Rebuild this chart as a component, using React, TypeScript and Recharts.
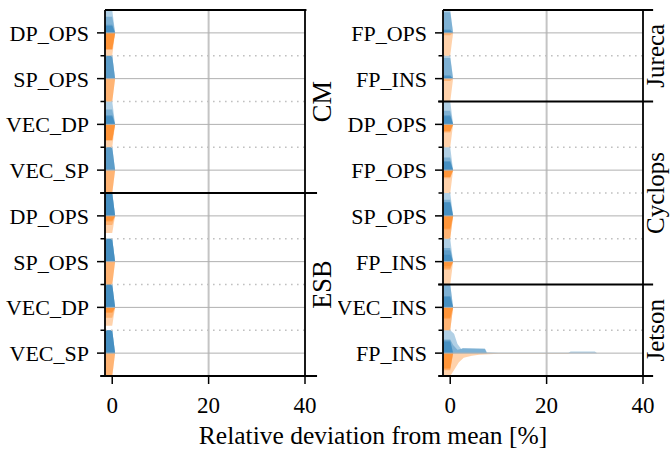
import React from "react";
import { ComposedChart, Area, XAxis, YAxis, ReferenceLine } from "recharts";

const FONT = "'Liberation Serif', 'Times New Roman', Times, 'DejaVu Serif', 'Noto Serif', serif";
const BLUE = "#1f77b4";
const ORANGE = "#ff7f0e";

const xTicks = [0, 20, 40];

// left panel
const leftCategories = ["DP_OPS", "SP_OPS", "VEC_DP", "VEC_SP", "DP_OPS", "SP_OPS", "VEC_DP", "VEC_SP"];
const leftGroups = [
  { name: "CM", rows: 4 },
  { name: "ESB", rows: 4 },
];
// width of each overlapping run's half-violin (fraction of half a row)
const leftBlue = [
  [1, 0.7, 0.35, 0.3],
  [1, 1, 1, 0],
  [1, 0.65, 0.4, 0.35],
  [1, 1, 1, 0],
  [1, 1, 1, 1],
  [1, 1, 1, 1],
  [1, 1, 1, 1],
  [1, 1, 1, 1],
];
const leftOrange = [
  [1, 0.75, 0.7, 0.7],
  [1, 1, 0, 0],
  [1, 0.72, 0.68, 0.68],
  [1, 1, 0, 0],
  [0.75, 0.4, 0.25, 0.2],
  [1, 1, 0, 0],
  [0.8, 0.45, 0.25, 0.2],
  [1, 1, 0, 0],
];

// right panel
const rightCategories = ["FP_OPS", "FP_INS", "DP_OPS", "FP_OPS", "SP_OPS", "FP_INS", "VEC_INS", "FP_INS"];
const rightGroups = [
  { name: "Jureca", rows: 2 },
  { name: "Cyclops", rows: 4 },
  { name: "Jetson", rows: 2 },
];
const rightBlue = [
  [1, 0.9, 0.15, 0.1],
  [1, 0.9, 0.15, 0.1],
  [1, 0.6, 0.4, 0.35],
  [1, 0.55, 0.4, 0.35],
  [1, 0.7, 0.6, 0.6],
  [1, 0.6, 0.5, 0.3],
  [1, 1, 0.5, 0.45],
  [1, 0.6, 0.55, 0.5],
];
const rightOrange = [
  [1, 0.1, 0, 0],
  [1, 0.1, 0, 0],
  [1, 0.35, 0.3, 0.3],
  [1, 0.35, 0.3, 0.3],
  [1, 1, 0.6, 0.55],
  [1, 0.35, 0.3, 0.2],
  [1, 1, 0.5, 0.45],
  [1, 0.75, 0.7, 0.65],
];

// common violin outline along x (most runs sit right at 0)
const profileX = [-1.5, 0, 0.3, 0.6];
const profileW = [1, 1, 0.5, 0];

// Jetson FP_INS has long tails
const tailRow = 7;
const tailBlueX = [-1.5, 0, 0.8, 1.5, 2.3, 2.6, 7.2, 7.6, 10, 24.5, 25, 30, 30.5];
const tailBlueW = [1, 1, 0.85, 0.4, 0.18, 0.22, 0.2, 0.04, 0.02, 0.02, 0.07, 0.07, 0];
const blobBlueX = [-1.5, 0, 0.6, 1.5, 2.6, 7.2, 7.6];
const blobBlueW = [0.6, 0.6, 0.35, 0.15, 0.2, 0.18, 0];
const tailOrangeX = [-1.5, 0, 0.8, 1.8, 2.8, 4.5, 6, 10, 19.5, 24.5, 25];
const tailOrangeW = [1, 1, 0.74, 0.4, 0.2, 0.12, 0.07, 0.03, 0.03, 0.03, 0];

type Layer = { key: string; color: string; data: { x: number; v: number[] }[] };

function half(row: number, xs: number[], ws: number[], up: boolean) {
  const c = row + 0.5;
  return xs.map((x, i) => ({
    x,
    v: up ? [c - 0.5 * ws[i], c] : [c, c + 0.5 * ws[i]],
  }));
}

function buildLayers(blue: number[][], orange: number[][], withTail: boolean): Layer[] {
  const out: Layer[] = [];
  blue.forEach((runs, row) =>
    runs.forEach((w, k) => {
      if (w <= 0) return;
      let data;
      if (withTail && row === tailRow && k === 0) data = half(row, tailBlueX, tailBlueW, true);
      else if (withTail && row === tailRow && k === 1) data = half(row, blobBlueX, blobBlueW, true);
      else data = half(row, profileX, profileW.map((p) => p * w), true);
      out.push({ key: `b${row}-${k}`, color: BLUE, data });
    })
  );
  orange.forEach((runs, row) =>
    runs.forEach((w, k) => {
      if (w <= 0) return;
      let data;
      if (withTail && row === tailRow && k === 0) data = half(row, tailOrangeX, tailOrangeW, false);
      else data = half(row, profileX, profileW.map((p) => p * w), false);
      out.push({ key: `o${row}-${k}`, color: ORANGE, data });
    })
  );
  return out;
}

function YTick(props: any) {
  const { x, y, payload, labels } = props;
  const v = payload.value as number;
  const idx = v - 0.5;
  const major = Number.isInteger(idx);
  return (
    <g>
      <line x1={x - (major ? 8 : 4.5)} x2={x} y1={y} y2={y} stroke="#000" strokeWidth={1.5} />
      {major && (
        <text x={x - 16} y={y} dy="0.36em" textAnchor="end" fontSize={22} style={{ fontFamily: FONT }} fill="#000">
          {labels[idx]}
        </text>
      )}
    </g>
  );
}

function XTick(props: any) {
  const { x, y, payload } = props;
  return (
    <g>
      <line x1={x} x2={x} y1={y} y2={y + 8} stroke="#000" strokeWidth={1.5} />
      <text x={x} y={y + 29} dy="0.35em" textAnchor="middle" fontSize={23} style={{ fontFamily: FONT }} fill="#000">
        {payload.value}
      </text>
    </g>
  );
}

function GroupLabel(props: any) {
  const { viewBox, name, offset, size } = props;
  const cx = viewBox.x + viewBox.width + offset;
  const cy = viewBox.y;
  return (
    <text
      x={cx}
      y={cy}
      dy="0.33em"
      textAnchor="middle"
      transform={`rotate(-90 ${cx} ${cy})`}
      fontSize={size}
      style={{ fontFamily: FONT }}
      fill="#000"
    >
      {name}
    </text>
  );
}

type PanelProps = {
  categories: string[];
  groups: { name: string; rows: number }[];
  blue: number[][];
  orange: number[][];
  withTail: boolean;
  width: number;
  rightWidth: number;
  ext: number;
  topExt: number;
  labelOffset: number;
  labelSize: number;
};

function Panel({
  categories,
  groups,
  blue,
  orange,
  withTail,
  width,
  rightWidth,
  ext,
  topExt,
  labelOffset,
  labelSize,
}: PanelProps) {
  const n = categories.length;
  const yTicks: number[] = [];
  for (let i = 0; i < n; i++) {
    yTicks.push(i + 0.5);
    if (i > 0) yTicks.push(i);
  }
  const seps: number[] = [];
  const centers: number[] = [];
  let acc = 0;
  groups.forEach((g, i) => {
    centers.push(acc + g.rows / 2);
    acc += g.rows;
    if (i < groups.length - 1) seps.push(acc);
  });
  const dotted: number[] = [];
  for (let i = 1; i < n; i++) if (!seps.includes(i)) dotted.push(i);
  const layers = buildLayers(blue, orange, withTail);

  return (
    <ComposedChart width={width} height={449} margin={{ top: 10, right: rightWidth, bottom: 33, left: 0 }}>
      <XAxis
        type="number"
        dataKey="x"
        domain={[-1.5, 40]}
        allowDataOverflow
        ticks={xTicks}
        tickSize={0}
        tickMargin={0}
        tick={<XTick />}
        axisLine={{ stroke: "#000", strokeWidth: 1.8 }}
        height={40}
      />
      <YAxis
        yAxisId="l"
        type="number"
        domain={[0, n]}
        reversed
        allowDataOverflow
        ticks={yTicks}
        interval={0}
        tickSize={0}
        tickMargin={0}
        tick={(p: any) => <YTick {...p} labels={categories} />}
        axisLine={{ stroke: "#000", strokeWidth: 1.8 }}
        width={105}
      />
      <ReferenceLine yAxisId="l" x={20} stroke="#c4c4c4" strokeWidth={2} />
      {categories.map((_, i) => (
        <ReferenceLine key={`c${i}`} yAxisId="l" y={i + 0.5} stroke="#b0b0b0" strokeWidth={1} />
      ))}
      {dotted.map((d) => (
        <ReferenceLine key={`d${d}`} yAxisId="l" y={d} stroke="#c0c0c0" strokeWidth={1.6} strokeDasharray="1.6 4.4" />
      ))}
      {layers.map((l) => (
        <Area
          key={l.key}
          yAxisId="l"
          data={l.data}
          dataKey="v"
          type="linear"
          fill={l.color}
          fillOpacity={0.35}
          stroke="none"
          dot={false}
          activeDot={false}
          isAnimationActive={false}
        />
      ))}
      <ReferenceLine
        yAxisId="l"
        segment={[{ x: -1.5, y: 0 }, { x: 40 + topExt, y: 0 }]}
        ifOverflow="visible"
        stroke="#000"
        strokeWidth={1.8}
      />
      <ReferenceLine
        yAxisId="l"
        segment={[{ x: -2.5, y: n }, { x: 40 + ext, y: n }]}
        ifOverflow="visible"
        stroke="#000"
        strokeWidth={1.8}
      />
      <ReferenceLine yAxisId="l" x={40} stroke="#000" strokeWidth={1.8} />
      {seps.map((s) => (
        <ReferenceLine
          key={`s${s}`}
          yAxisId="l"
          segment={[{ x: -2.5, y: s }, { x: 40 + ext, y: s }]}
          ifOverflow="visible"
          stroke="#000"
          strokeWidth={1.8}
        />
      ))}
      {groups.map((g, i) => (
        <ReferenceLine
          key={`g${i}`}
          yAxisId="l"
          y={centers[i]}
          stroke="none"
          label={(p: any) => <GroupLabel {...p} name={g.name} offset={labelOffset} size={labelSize} />}
        />
      ))}
    </ComposedChart>
  );
}

export default function App() {
  return (
    <div style={{ position: "absolute", left: 0, top: 0, width: 671, height: 449, background: "#fff", fontFamily: FONT }}>
      <div style={{ position: "absolute", left: 0, top: 0 }}>
        <Panel
          categories={leftCategories}
          groups={leftGroups}
          blue={leftBlue}
          orange={leftOrange}
          withTail={false}
          width={340}
          rightWidth={35}
          ext={2.5}
          topExt={0.3}
          labelOffset={17}
          labelSize={26.5}
        />
      </div>
      <div style={{ position: "absolute", left: 338, top: 0 }}>
        <Panel
          categories={rightCategories}
          groups={rightGroups}
          blue={rightBlue}
          orange={rightOrange}
          withTail={true}
          width={333}
          rightWidth={28}
          ext={2.1}
          topExt={2.1}
          labelOffset={12.5}
          labelSize={25}
        />
      </div>
      <div
        style={{
          position: "absolute",
          left: 123,
          top: 423,
          width: 500,
          textAlign: "center",
          fontSize: 25.5,
          lineHeight: "25.5px",
          color: "#000",
        }}
      >
        Relative deviation from mean [%]
      </div>
    </div>
  );
}
